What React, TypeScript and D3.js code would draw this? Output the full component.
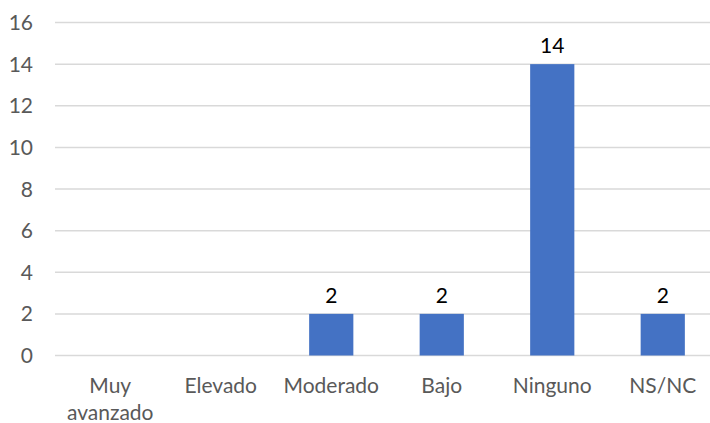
import React from "react";
import * as d3 from "d3";

const categories: string[][] = [
  ["Muy", "avanzado"],
  ["Elevado"],
  ["Moderado"],
  ["Bajo"],
  ["Ninguno"],
  ["NS/NC"],
];
const values: (number | null)[] = [null, null, 2, 2, 14, 2];
const yTicks: number[] = [0, 2, 4, 6, 8, 10, 12, 14, 16];

const W = 710;
const H = 423;
const FONT = "Lato, 'Open Sans', sans-serif";

export default function App() {
  const keys = categories.map((c) => c.join(" "));
  const x = d3.scaleBand<string>().domain(keys).range([55, 718]).padding(0);
  const y = d3.scaleLinear().domain([0, 16]).range([355.5, 22.5]);
  const barW = x.bandwidth() * 0.4;

  return (
    <svg
      width={W}
      height={H}
      style={{ position: "absolute", left: 0, top: 0, background: "#fff" }}
    >
      {yTicks.map((t) => (
        <g key={t}>
          <line x1={55} x2={W} y1={y(t)} y2={y(t)} stroke="#d9d9d9" strokeWidth={1.5} />
          <text
            x={33}
            y={y(t)}
            dy="0.36em"
            textAnchor="end"
            fontFamily={FONT}
            fontSize={21}
            fill="#595959"
          >
            {t}
          </text>
        </g>
      ))}
      {values.map((v, i) => {
        if (v == null) return null;
        const cx = (x(keys[i]) as number) + x.bandwidth() / 2;
        return (
          <g key={keys[i]}>
            <rect
              x={cx - barW / 2}
              y={y(v)}
              width={barW}
              height={y(0) - y(v)}
              fill="#4472c4"
            />
            <text
              x={cx}
              y={y(v) - 11}
              textAnchor="middle"
              fontFamily={FONT}
              fontSize={21}
              fill="#000"
            >
              {v}
            </text>
          </g>
        );
      })}
      {categories.map((lines, i) => {
        const cx = (x(keys[i]) as number) + x.bandwidth() / 2;
        return (
          <text
            key={keys[i]}
            x={cx}
            y={393}
            textAnchor="middle"
            fontFamily={FONT}
            fontSize={21}
            fill="#595959"
          >
            {lines.map((l, j) => (
              <tspan key={j} x={cx} dy={j === 0 ? 0 : 27}>
                {l}
              </tspan>
            ))}
          </text>
        );
      })}
    </svg>
  );
}
